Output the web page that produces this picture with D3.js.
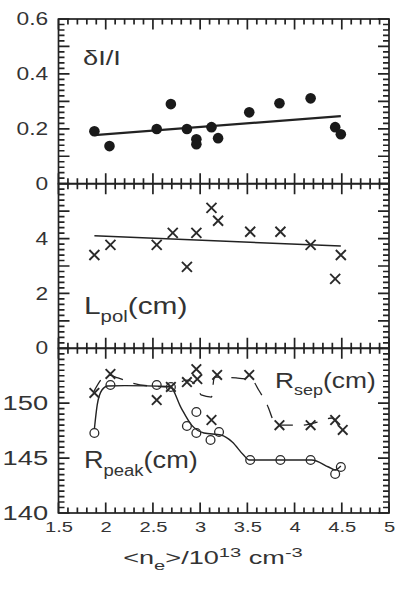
<!DOCTYPE html>
<html>
<head>
<meta charset="utf-8">
<script src="https://cdn.jsdelivr.net/npm/d3@7"></script>
<style>
body { margin: 0; background: #fff; }
</style>
</head>
<body>
<script>
// <n_e> (1e13 cm^-3) and the three measured quantities
const xTicks = [1.5, 2, 2.5, 3, 3.5, 4, 4.5, 5];

const neFluct = [1.88, 2.04, 2.54, 2.69, 2.86, 2.96, 2.96, 3.12, 3.19, 3.52, 3.84, 4.17, 4.43, 4.49];
const fluct = [0.191, 0.137, 0.199, 0.290, 0.199, 0.162, 0.144, 0.206, 0.166, 0.260, 0.293, 0.311, 0.206, 0.180];
const fluctFitX = [1.88, 4.49];
const fluctFitY = [0.177, 0.246];

const neLpol = [1.88, 2.05, 2.54, 2.71, 2.86, 2.96, 3.12, 3.19, 3.53, 3.85, 4.17, 4.43, 4.49];
const lpol = [3.40, 3.77, 3.77, 4.21, 2.97, 4.21, 5.12, 4.65, 4.25, 4.25, 3.77, 2.53, 3.40];
const lpolFitX = [1.88, 4.49];
const lpolFitY = [4.10, 3.73];

const nePeak = [1.88, 2.05, 2.54, 2.69, 2.86, 2.96, 2.96, 3.11, 3.20, 3.53, 3.85, 4.17, 4.43, 4.49];
const rPeak = [147.29, 151.66, 151.66, 151.48, 147.92, 149.2, 147.29, 146.65, 147.38, 144.83, 144.83, 144.83, 143.55, 144.19];
const peakCurveX = [1.88, 1.91, 1.96, 2.02, 2.2, 2.68, 2.80, 2.91, 3.04, 3.22, 3.34, 3.46, 3.52, 4.18, 4.36, 4.43, 4.49];
const peakCurveY = [147.65, 149.84, 151.2, 151.57, 151.6, 151.52, 149.56, 148.0, 147.29, 147.1, 146.47, 145.28, 144.83, 144.83, 144.19, 143.92, 144.28];

const neSep = [1.88, 2.05, 2.54, 2.69, 2.86, 2.96, 2.97, 3.12, 3.18, 3.52, 3.84, 4.17, 4.43, 4.51];
const rSep = [150.93, 152.66, 150.29, 151.48, 151.93, 153.1, 152.2, 148.47, 152.57, 152.57, 148.0, 148.0, 148.47, 147.56];
const sepCurveX = [1.87, 2.02, 2.13, 2.28, 2.46, 2.68, 2.86, 2.97, 3.01, 3.12, 3.15, 3.38, 3.55, 3.62, 3.71, 3.81, 4.07, 4.25, 4.39, 4.49];
const sepCurveY = [151.0, 152.57, 152.3, 151.84, 151.57, 151.48, 152.1, 151.48, 150.75, 150.56, 152.38, 152.3, 152.1, 151.2, 149.84, 148.0, 148.0, 148.3, 148.65, 147.56];

const panels = [
    { top: 19, bottom: 183.7, domain: [0, 0.6], labels: [0, 0.2, 0.4, 0.6], long: 0.1, minor: 0.02, fmt: d3.format(".1~f"), fs: 17.5 },
    { top: 183.7, bottom: 348.3, domain: [0, 6], labels: [0, 2, 4], long: 1, minor: 0.2, fmt: d3.format("d"), fs: 17.5 },
    { top: 348.3, bottom: 513, domain: [140, 155], labels: [140, 145, 150], long: 5, minor: 0.5, fmt: d3.format("d"), fs: 21 }
];

const ink = "#222";
const font = "Liberation Sans, Arial, sans-serif";
const svg = d3.select("body").append("svg")
    .attr("width", 396)
    .attr("height", 597);

const x = d3.scaleLinear().domain([1.5, 5]).range([58.5, 389]);
const xMinor = d3.range(15, 50, 1).map(d => d / 10);
const xLeft = x.range()[0], xRight = x.range()[1];

panels.forEach(p => {
    p.y = d3.scaleLinear().domain(p.domain).range([p.bottom, p.top]);
});

// ---- panel 1: dI/I ----
const p1 = panels[0];
svg.append("path")
    .datum(d3.zip(fluctFitX, fluctFitY))
    .attr("d", d3.line().x(d => x(d[0])).y(d => p1.y(d[1])))
    .attr("fill", "none").attr("stroke", ink).attr("stroke-width", 2.3);
svg.append("g").selectAll("circle")
    .data(d3.zip(neFluct, fluct))
    .join("circle")
    .attr("cx", d => x(d[0])).attr("cy", d => p1.y(d[1]))
    .attr("r", 5.3).attr("fill", "#1a1a1a");

// ---- panel 2: Lpol ----
const p2 = panels[1];
svg.append("path")
    .datum(d3.zip(lpolFitX, lpolFitY))
    .attr("d", d3.line().x(d => x(d[0])).y(d => p2.y(d[1])))
    .attr("fill", "none").attr("stroke", ink).attr("stroke-width", 1.5);

function crosses(xs, ys, yScale, s) {
    const g = svg.append("g");
    d3.zip(xs, ys).forEach(d => {
        const cx = x(d[0]), cy = yScale(d[1]);
        g.append("path")
            .attr("d", `M${cx - s},${cy - s}L${cx + s},${cy + s}M${cx - s},${cy + s}L${cx + s},${cy - s}`)
            .attr("stroke", "#2a2a2a").attr("stroke-width", 1.9).attr("fill", "none");
    });
}
crosses(neLpol, lpol, p2.y, 5);

// ---- panel 3: Rpeak / Rsep ----
const p3 = panels[2];
svg.append("path")
    .datum(d3.zip(peakCurveX, peakCurveY))
    .attr("d", d3.line().curve(d3.curveMonotoneX).x(d => x(d[0])).y(d => p3.y(d[1])))
    .attr("fill", "none").attr("stroke", ink).attr("stroke-width", 1.4);
svg.append("path")
    .datum(d3.zip(sepCurveX, sepCurveY))
    .attr("d", d3.line().curve(d3.curveMonotoneX).x(d => x(d[0])).y(d => p3.y(d[1])))
    .attr("fill", "none").attr("stroke", ink).attr("stroke-width", 1.3)
    .attr("stroke-dasharray", "14,11");
svg.append("g").selectAll("circle")
    .data(d3.zip(nePeak, rPeak))
    .join("circle")
    .attr("cx", d => x(d[0])).attr("cy", d => p3.y(d[1]))
    .attr("r", 4.4).attr("fill", "none")
    .attr("stroke", "#2a2a2a").attr("stroke-width", 1.3);
crosses(neSep, rSep, p3.y, 4.8);

// ---- frames, ticks, y labels ----
let tickPath = "";
panels.forEach(p => {
    const lo = p.domain[0], hi = p.domain[1];
    const yMinor = d3.range(0, Math.round((hi - lo) / p.minor) + 1).map(i => lo + i * p.minor);
    const yLong = d3.range(0, Math.round((hi - lo) / p.long) + 1).map(i => lo + i * p.long);

    xMinor.forEach(v => { tickPath += `M${x(v)},${p.top}v5.5M${x(v)},${p.bottom}v-5.5`; });
    xTicks.forEach(v => { tickPath += `M${x(v)},${p.top}v10.5M${x(v)},${p.bottom}v-10.5`; });
    yMinor.forEach(v => { tickPath += `M${xLeft},${p.y(v)}h6M${xRight},${p.y(v)}h-6`; });
    yLong.forEach(v => { tickPath += `M${xLeft},${p.y(v)}h11M${xRight},${p.y(v)}h-11`; });

    svg.append("rect")
        .attr("x", xLeft).attr("y", p.top)
        .attr("width", xRight - xLeft).attr("height", p.bottom - p.top)
        .attr("fill", "none").attr("stroke", ink).attr("stroke-width", 1.7);

    const lab = svg.append("g")
        .attr("transform", `translate(${xLeft},0)`)
        .call(d3.axisLeft(p.y).tickValues(p.labels).tickSize(0).tickPadding(8).tickFormat(p.fmt));
    lab.select(".domain").remove();
    lab.selectAll("text")
        .attr("font-size", p.fs).attr("fill", "#333").attr("font-family", font)
        .attr("transform", "scale(1.3,1)");
});
svg.append("path")
    .attr("d", tickPath)
    .attr("fill", "none").attr("stroke", ink).attr("stroke-width", 1.7);

// x tick labels
const xAxisLabels = svg.append("g")
    .attr("transform", `translate(0,${panels[2].bottom})`)
    .call(d3.axisBottom(x).tickValues(xTicks).tickSize(0).tickPadding(8.5).tickFormat(d3.format("~g")));
xAxisLabels.select(".domain").remove();
xAxisLabels.selectAll("text")
    .attr("font-size", 15.5).attr("fill", "#333").attr("font-family", font)
    .attr("transform", "scale(1.3,1)");

// ---- panel labels ----
function label(px, py, main, sub, rest, size, sx) {
    const t = svg.append("text")
        .attr("transform", `translate(${px},${py}) scale(${sx},1)`)
        .attr("font-family", font).attr("font-size", size).attr("fill", "#333");
    t.append("tspan").text(main);
    if (sub) {
        t.append("tspan").attr("font-size", size * 0.68).attr("dy", size * 0.33).text(sub);
        t.append("tspan").attr("dy", -size * 0.33).text(rest);
    }
}
label(83, 65, "δI/I", null, null, 21, 1.3);
label(84, 314, "L", "pol", "(cm)", 23, 1.3);
label(84, 468, "R", "peak", "(cm)", 23, 1.18);
label(275, 388, "R", "sep", "(cm)", 22, 1.2);

// ---- x title ----
const xt = svg.append("text")
    .attr("transform", "translate(213,564) scale(1.55,1)")
    .attr("text-anchor", "middle").attr("font-family", font).attr("font-size", 17.5).attr("fill", "#333");
xt.append("tspan").text("<n");
xt.append("tspan").attr("font-size", 13).attr("dy", 6).text("e");
xt.append("tspan").attr("dy", -6).text(">/10");
xt.append("tspan").attr("font-size", 13).attr("dy", -7).text("13");
xt.append("tspan").attr("dy", 7).text(" cm");
xt.append("tspan").attr("font-size", 13).attr("dy", -7).text("-3");
</script>
</body>
</html>
